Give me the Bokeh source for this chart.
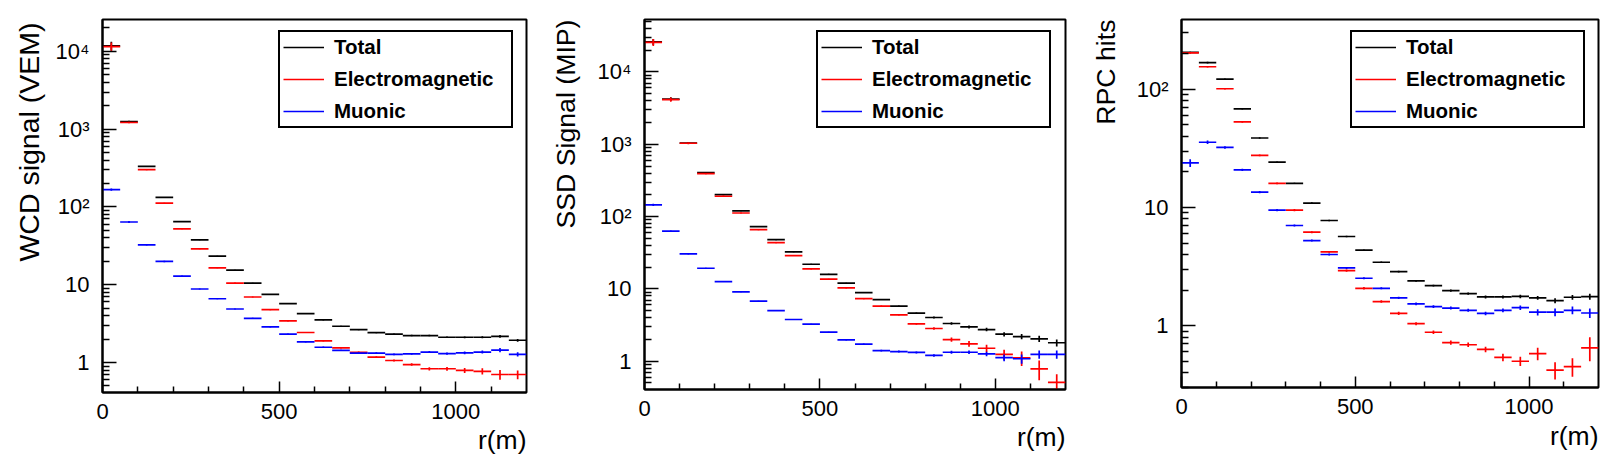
import math
from bokeh.plotting import figure
from bokeh.models import (FixedTicker, CustomJSTickFormatter, Range1d, Title,
                          Legend, LegendItem)
from bokeh.layouts import row
from bokeh.embed import file_html
from bokeh.resources import INLINE

# ---------------- data ----------------
bin_edges = [0, 50, 100, 150, 200, 250, 300, 350, 400, 450, 500, 550, 600,
             650, 700, 750, 800, 850, 900, 950, 1000, 1050, 1100, 1150, 1200]
series_names = ["Total", "Electromagnetic", "Muonic"]

wcd_total = [11800, 1253, 332, 133, 64.9, 37.8, 23.3, 15.4, 10.5, 7.5, 5.7, 4.25,
             3.52, 2.92, 2.65, 2.42, 2.31, 2.22, 2.22, 2.11, 2.11, 2.11, 2.17, 1.93]
wcd_em = [11500, 1218, 301, 112, 52.2, 28.9, 16.5, 10.5, 6.95, 4.78, 3.42, 2.43,
          1.90, 1.54, 1.35, 1.17, 1.06, 0.94, 0.83, 0.83, 0.79, 0.77, 0.70, 0.70]
wcd_mu = [167, 64, 32.6, 19.9, 12.9, 8.8, 6.6, 4.87, 3.7, 2.87, 2.31, 1.84,
          1.57, 1.43, 1.32, 1.32, 1.27, 1.29, 1.36, 1.30, 1.33, 1.36, 1.44, 1.27]
wcd_total_err = [1500, 25, 5, 1.5, 0.7, 0.4, 0.25, 0.17, 0.12, 0.09, 0.07, 0.06,
                 0.05, 0.045, 0.045, 0.045, 0.045, 0.045, 0.05, 0.05, 0.055, 0.06, 0.09, 0.08]
wcd_em_err = [1500, 25, 5, 1.5, 0.7, 0.4, 0.25, 0.15, 0.1, 0.07, 0.05, 0.04,
              0.035, 0.03, 0.03, 0.03, 0.03, 0.035, 0.04, 0.045, 0.06, 0.07, 0.1, 0.09]
wcd_mu_err = [6, 2, 0.8, 0.4, 0.25, 0.15, 0.1, 0.08, 0.06, 0.05, 0.04, 0.035,
              0.03, 0.03, 0.03, 0.03, 0.035, 0.035, 0.04, 0.045, 0.05, 0.06, 0.09, 0.08]

ssd_total = [26000, 4200, 1040, 405, 201, 120, 72.8, 48, 32.5, 21.9, 15.9, 12.0,
             8.9, 7.12, 5.76, 4.61, 4.02, 3.32, 2.98, 2.74, 2.36, 2.19, 2.04, 1.80]
ssd_em = [25700, 4150, 1032, 393, 191, 112, 66, 43.7, 28.9, 18.9, 13.6, 10.3,
          7.35, 5.76, 4.37, 3.28, 2.83, 1.99, 1.74, 1.51, 1.24, 1.11, 0.785, 0.51]
ssd_mu = [145, 62.7, 30.5, 19.3, 12.6, 9.1, 6.75, 5.0, 3.77, 3.25, 2.52, 1.97,
          1.72, 1.40, 1.36, 1.32, 1.20, 1.33, 1.33, 1.26, 1.12, 1.08, 1.24, 1.24]
ssd_total_err = [2500, 250, 30, 8, 4, 2, 1.2, 0.8, 0.5, 0.35, 0.25, 0.2,
                 0.16, 0.13, 0.12, 0.11, 0.12, 0.13, 0.14, 0.15, 0.16, 0.18, 0.2, 0.2]
ssd_em_err = [2800, 280, 30, 8, 4, 2, 1.2, 0.8, 0.5, 0.35, 0.25, 0.2,
              0.15, 0.12, 0.1, 0.1, 0.11, 0.14, 0.16, 0.18, 0.2, 0.25, 0.24, 0.15]
ssd_mu_err = [5, 1.5, 0.6, 0.3, 0.2, 0.12, 0.08, 0.06, 0.05, 0.04, 0.04, 0.035,
              0.035, 0.035, 0.04, 0.045, 0.05, 0.06, 0.07, 0.09, 0.12, 0.16, 0.16, 0.16]

rpc_total = [205, 168, 121.6, 68.1, 38.7, 24.2, 16.0, 10.9, 7.76, 5.68, 4.35, 3.44,
             2.87, 2.39, 2.18, 1.98, 1.87, 1.75, 1.75, 1.77, 1.72, 1.63, 1.74, 1.76]
rpc_em = [203, 155, 101, 52.9, 27.6, 16.0, 9.5, 6.18, 4.21, 2.92, 2.07, 1.60,
          1.27, 1.04, 0.88, 0.72, 0.69, 0.63, 0.54, 0.50, 0.58, 0.42, 0.45, 0.65]
rpc_mu = [23.8, 35.6, 32.2, 20.8, 13.5, 9.5, 7.04, 5.25, 4.0, 3.08, 2.52, 2.07,
          1.72, 1.53, 1.45, 1.41, 1.35, 1.27, 1.35, 1.42, 1.30, 1.30, 1.35, 1.28]
rpc_total_err = [3, 2.5, 1.5, 0.8, 0.5, 0.3, 0.2, 0.15, 0.1, 0.08, 0.06, 0.05,
                 0.05, 0.04, 0.04, 0.04, 0.04, 0.05, 0.05, 0.06, 0.06, 0.08, 0.08, 0.1]
rpc_em_err = [3, 2.5, 1.5, 0.8, 0.5, 0.3, 0.2, 0.12, 0.08, 0.06, 0.05, 0.04,
              0.04, 0.03, 0.03, 0.03, 0.03, 0.035, 0.04, 0.045, 0.07, 0.07, 0.08, 0.15]
rpc_mu_err = [1.8, 1.2, 0.8, 0.5, 0.3, 0.2, 0.15, 0.1, 0.08, 0.06, 0.05, 0.04,
              0.04, 0.04, 0.04, 0.04, 0.04, 0.045, 0.05, 0.06, 0.08, 0.1, 0.1, 0.12]

colors = ["#000000", "#ff0000", "#0000ff"]
FONT = "Liberation Sans"

# ---------------- helpers ----------------
fmt_code = """
const e = Math.round(Math.log10(tick));
const sup = ["\u2070","\u00b9","\u00b2","\u00b3","\u2074","\u2075","\u2076"];
if (e === 0) return "1";
if (e === 1) return "10";
return "10" + sup[e];
"""


def panel(ylabel, ylab_size, ylab_standoff, ylab_offset, xlab_standoff,
          series, errs, ymin, ymax, fw, fh, bl, br, bt, bb, leg_xy):
    p = figure(frame_width=fw, frame_height=fh, y_axis_type="log",
               x_range=Range1d(0, 1200), y_range=Range1d(ymin, ymax),
               toolbar_location=None, output_backend="svg", title=None,
               min_border_left=bl, min_border_right=br,
               min_border_top=bt, min_border_bottom=bb)
    p.xgrid.visible = False
    p.ygrid.visible = False
    p.outline_line_color = "black"
    p.outline_line_width = 2
    p.outline_line_alpha = 1
    p.background_fill_color = "white"
    p.border_fill_color = "white"

    lo = bin_edges[:-1]
    hi = bin_edges[1:]
    ctr = [(a + b) / 2 for a, b in zip(lo, hi)]
    items = []
    for name, vals, err, col in zip(series_names, series, errs, colors):
        r = p.segment(x0=lo, y0=vals, x1=hi, y1=vals, line_color=col, line_width=1.7)
        p.segment(x0=ctr, y0=[v - e for v, e in zip(vals, err)], x1=ctr,
                  y1=[v + e for v, e in zip(vals, err)], line_color=col, line_width=1.7)
        items.append(LegendItem(label=name, renderers=[r]))

    leg = Legend(items=items, location=leg_xy, margin=0, padding=3, spacing=8,
                 label_height=24, glyph_height=24, glyph_width=41, label_standoff=10,
                 label_width=174, border_line_color="black", border_line_width=2,
                 border_line_alpha=1.0,
                 background_fill_color="white", background_fill_alpha=1.0,
                 label_text_font=FONT, label_text_font_style="bold",
                 label_text_font_size="20.5px", label_text_color="black")
    p.add_layout(leg)

    # axes
    decades = [10.0 ** k for k in range(-1, 6)]
    majors = [d for d in decades if ymin <= d <= ymax]
    minors = [d * m for d in decades for m in range(2, 10) if ymin <= d * m <= ymax]
    p.yaxis.ticker = FixedTicker(ticks=majors, minor_ticks=minors)
    p.yaxis.formatter = CustomJSTickFormatter(code=fmt_code)
    p.xaxis.ticker = FixedTicker(ticks=[0, 500, 1000],
                                 minor_ticks=[100, 200, 300, 400, 600, 700, 800, 900, 1100])
    for ax, mj, mn in ((p.xaxis, 11, 6), (p.yaxis, 14, 7)):
        ax.major_tick_in = mj
        ax.major_tick_out = 0
        ax.minor_tick_in = mn
        ax.minor_tick_out = 0
        ax.major_tick_line_width = 1.5
        ax.minor_tick_line_width = 1.5
        ax.major_tick_line_color = "black"
        ax.minor_tick_line_color = "black"
        ax.axis_line_color = "black"
        ax.axis_line_width = 2
        ax.major_label_text_font = FONT
        ax.major_label_text_font_size = "22px"
        ax.major_label_text_color = "black"
    p.xaxis.major_label_standoff = 11
    p.yaxis.major_label_standoff = 13

    p.add_layout(Title(text=ylabel, align="right", text_font=FONT,
                       text_font_size=ylab_size, text_font_style="normal",
                       text_color="black", standoff=ylab_standoff,
                       offset=ylab_offset), "left")
    p.add_layout(Title(text="r(m)", align="right", text_font=FONT,
                       text_font_size="26.5px", text_font_style="normal",
                       text_color="black", standoff=xlab_standoff, offset=0), "below")
    return p


p1 = panel("WCD signal (VEM)", "28.5px", 16, 3, 3,
           [wcd_total, wcd_em, wcd_mu],
           [wcd_total_err, wcd_em_err, wcd_mu_err], 0.411, 25700,
           424, 373, 102, 6, 16, 66, (176, 264))
p2 = panel("SSD Signal (MIP)", "26.7px", 28, 0, 3,
           [ssd_total, ssd_em, ssd_mu],
           [ssd_total_err, ssd_em_err, ssd_mu_err], 0.406, 53100,
           421, 370, 112, 6, 19, 66, (172, 261))
p3 = panel("RPC hits", "26.7px", 26, 0, 5,
           [rpc_total, rpc_em, rpc_mu],
           [rpc_total_err, rpc_em_err, rpc_mu_err], 0.30, 389,
           417, 368, 110, 11, 19, 68, (169, 259))

layout = row(p1, p2, p3, spacing=0)
open("out.html", "w").write(file_html(layout, INLINE))
